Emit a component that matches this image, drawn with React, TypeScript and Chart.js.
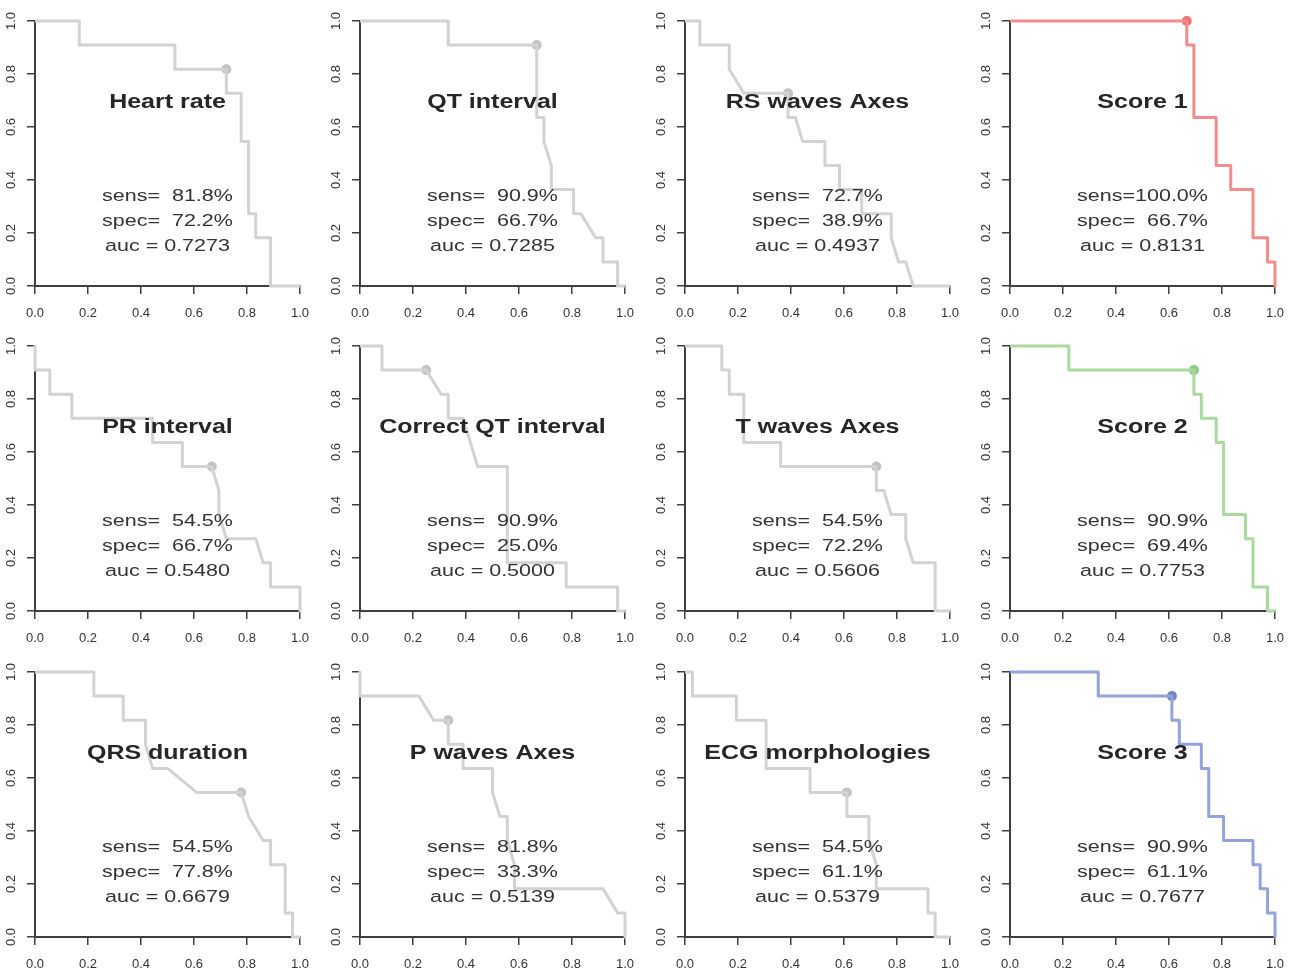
import React, { useEffect, useRef } from "react";
import { Chart, registerables } from "chart.js";

Chart.register(...registerables);

// ---------- data ----------
const titles = [
  "Heart rate", "QT interval", "RS waves Axes", "Score 1",
  "PR interval", "Correct QT interval", "T waves Axes", "Score 2",
  "QRS duration", "P waves Axes", "ECG morphologies", "Score 3",
];

const heartRateSpec = [0, 0.167, 0.167, 0.528, 0.528, 0.722, 0.722, 0.778, 0.778, 0.806, 0.806, 0.833, 0.833, 0.889, 0.889, 1];
const heartRateSens = [1, 1, 0.909, 0.909, 0.818, 0.818, 0.727, 0.727, 0.545, 0.545, 0.273, 0.273, 0.182, 0.182, 0, 0];

const qtSpec = [0, 0.333, 0.333, 0.667, 0.667, 0.694, 0.694, 0.722, 0.722, 0.806, 0.806, 0.833, 0.889, 0.917, 0.917, 0.972, 0.972, 1];
const qtSens = [1, 1, 0.909, 0.909, 0.636, 0.636, 0.545, 0.455, 0.364, 0.364, 0.273, 0.273, 0.182, 0.182, 0.091, 0.091, 0, 0];

const rsSpec = [0, 0.056, 0.056, 0.167, 0.167, 0.222, 0.389, 0.389, 0.417, 0.444, 0.528, 0.528, 0.583, 0.583, 0.667, 0.667, 0.778, 0.778, 0.806, 0.833, 0.861, 1];
const rsSens = [1, 1, 0.909, 0.909, 0.818, 0.727, 0.727, 0.636, 0.636, 0.545, 0.545, 0.455, 0.455, 0.364, 0.364, 0.273, 0.273, 0.182, 0.091, 0.091, 0, 0];

const score1Spec = [0, 0.667, 0.667, 0.694, 0.694, 0.778, 0.778, 0.833, 0.833, 0.917, 0.917, 0.972, 0.972, 1, 1];
const score1Sens = [1, 1, 0.909, 0.909, 0.636, 0.636, 0.455, 0.455, 0.364, 0.364, 0.182, 0.182, 0.091, 0.091, 0];

const prSpec = [0, 0, 0.056, 0.056, 0.139, 0.139, 0.444, 0.444, 0.556, 0.556, 0.667, 0.694, 0.694, 0.722, 0.833, 0.861, 0.889, 0.889, 1, 1];
const prSens = [1, 0.909, 0.909, 0.818, 0.818, 0.727, 0.727, 0.636, 0.636, 0.545, 0.545, 0.455, 0.364, 0.273, 0.273, 0.182, 0.182, 0.091, 0.091, 0];

const qtcSpec = [0, 0.083, 0.083, 0.25, 0.306, 0.333, 0.333, 0.389, 0.444, 0.556, 0.556, 0.778, 0.778, 0.972, 0.972, 1];
const qtcSens = [1, 1, 0.909, 0.909, 0.818, 0.818, 0.727, 0.727, 0.545, 0.545, 0.182, 0.182, 0.091, 0.091, 0, 0];

const tWaveSpec = [0, 0.139, 0.139, 0.167, 0.167, 0.222, 0.222, 0.361, 0.361, 0.722, 0.722, 0.75, 0.778, 0.833, 0.833, 0.861, 0.944, 0.944, 1];
const tWaveSens = [1, 1, 0.909, 0.909, 0.818, 0.818, 0.636, 0.636, 0.545, 0.545, 0.455, 0.455, 0.364, 0.364, 0.273, 0.182, 0.182, 0, 0];

const score2Spec = [0, 0.222, 0.222, 0.694, 0.694, 0.722, 0.722, 0.778, 0.778, 0.806, 0.806, 0.889, 0.889, 0.917, 0.917, 0.972, 0.972, 1];
const score2Sens = [1, 1, 0.909, 0.909, 0.818, 0.818, 0.727, 0.727, 0.636, 0.636, 0.364, 0.364, 0.273, 0.273, 0.091, 0.091, 0, 0];

const qrsSpec = [0, 0.222, 0.222, 0.333, 0.333, 0.417, 0.417, 0.444, 0.5, 0.611, 0.778, 0.806, 0.861, 0.889, 0.889, 0.944, 0.944, 0.972, 0.972, 1];
const qrsSens = [1, 1, 0.909, 0.909, 0.818, 0.818, 0.727, 0.636, 0.636, 0.545, 0.545, 0.455, 0.364, 0.364, 0.273, 0.273, 0.091, 0.091, 0, 0];

const pWaveSpec = [0, 0, 0.222, 0.278, 0.333, 0.333, 0.389, 0.389, 0.5, 0.5, 0.528, 0.556, 0.556, 0.583, 0.583, 0.917, 0.972, 1, 1];
const pWaveSens = [1, 0.909, 0.909, 0.818, 0.818, 0.727, 0.727, 0.636, 0.636, 0.545, 0.455, 0.455, 0.364, 0.273, 0.182, 0.182, 0.091, 0.091, 0];

const ecgSpec = [0, 0.028, 0.028, 0.194, 0.194, 0.306, 0.306, 0.472, 0.472, 0.611, 0.611, 0.694, 0.694, 0.722, 0.722, 0.917, 0.917, 0.944, 0.944, 1];
const ecgSens = [1, 1, 0.909, 0.909, 0.818, 0.818, 0.636, 0.636, 0.545, 0.545, 0.455, 0.455, 0.364, 0.273, 0.182, 0.182, 0.091, 0.091, 0, 0];

const score3Spec = [0, 0.333, 0.333, 0.611, 0.611, 0.639, 0.639, 0.722, 0.722, 0.75, 0.75, 0.806, 0.806, 0.917, 0.917, 0.944, 0.944, 0.972, 0.972, 1, 1];
const score3Sens = [1, 1, 0.909, 0.909, 0.818, 0.818, 0.727, 0.727, 0.636, 0.636, 0.455, 0.455, 0.364, 0.364, 0.273, 0.273, 0.182, 0.182, 0.091, 0.091, 0];

const bestSens = [81.8, 90.9, 72.7, 100.0, 54.5, 90.9, 54.5, 90.9, 54.5, 81.8, 54.5, 90.9];
const bestSpec = [72.2, 66.7, 38.9, 66.7, 66.7, 25.0, 72.2, 69.4, 77.8, 33.3, 61.1, 61.1];
const aucValues = [0.7273, 0.7285, 0.4937, 0.8131, 0.548, 0.5, 0.5606, 0.7753, 0.6679, 0.5139, 0.5379, 0.7677];

const axisTicks = [0, 0.2, 0.4, 0.6, 0.8, 1.0];

// ---------- styling ----------
const specList = [heartRateSpec, qtSpec, rsSpec, score1Spec, prSpec, qtcSpec, tWaveSpec, score2Spec, qrsSpec, pWaveSpec, ecgSpec, score3Spec];
const sensList = [heartRateSens, qtSens, rsSens, score1Sens, prSens, qtcSens, tWaveSens, score2Sens, qrsSens, pWaveSens, ecgSens, score3Sens];

const GRAY_LINE = "#d2d2d2";
const GRAY_PT = "#c3c3c3";
const lineColors = [GRAY_LINE, GRAY_LINE, GRAY_LINE, "#f38b8b", GRAY_LINE, GRAY_LINE, GRAY_LINE, "#a9d99e", GRAY_LINE, GRAY_LINE, GRAY_LINE, "#93a2d8"];
const pointColors = [GRAY_PT, GRAY_PT, GRAY_PT, "#ef7373", GRAY_PT, GRAY_PT, GRAY_PT, "#90cd84", GRAY_PT, GRAY_PT, GRAY_PT, "#7285c9"];

const FONT = "'Liberation Sans', Arial, Helvetica, sans-serif";
const TEXT_STRETCH = 1.25;
const AXIS_COLOR = "#3f3f3f";
const TEXT_COLOR = "#333333";

const CW = 325;
const CH = 326;
const rowTops = [0, 325, 651];

function fmtPct(v: number) {
  const s = v.toFixed(1);
  const pad = 5 - s.length;
  return "  ".repeat(Math.max(0, pad)) + s + "%";
}

function drawText(
  ctx: CanvasRenderingContext2D,
  text: string,
  x: number,
  y: number,
  font: string,
  color: string,
  stretch: number,
  rotate = false
) {
  ctx.save();
  ctx.font = font;
  ctx.fillStyle = color;
  ctx.textAlign = "center";
  ctx.textBaseline = "alphabetic";
  ctx.translate(x, y);
  ctx.scale(stretch, 1);
  if (rotate) ctx.rotate(-Math.PI / 2);
  ctx.fillText(text, 0, 0);
  ctx.restore();
}

function Panel({ idx }: { idx: number }) {
  const ref = useRef<HTMLCanvasElement>(null);
  const col = idx % 4;
  const row = Math.floor(idx / 4);

  useEffect(() => {
    if (!ref.current) return;
    const xs = specList[idx];
    const ys = sensList[idx];

    const textPlugin = {
      id: "panelText" + idx,
      afterDraw(chart: any) {
        const { ctx, chartArea } = chart;
        const xs2 = chart.scales.x;
        const ys2 = chart.scales.y;
        axisTicks.forEach((v) => {
          const px = xs2.getPixelForValue(v);
          drawText(ctx, v.toFixed(1), px, chartArea.bottom + 30.5, `13px ${FONT}`, TEXT_COLOR, 1);
          const py = ys2.getPixelForValue(v);
          drawText(ctx, v.toFixed(1), chartArea.left - 20.4, py, `13px ${FONT}`, TEXT_COLOR, 1, true);
        });
        const cx = xs2.getPixelForValue(0.5);
        const top = chartArea.top;
        drawText(ctx, titles[idx], cx, top + 87, `bold 20px ${FONT}`, "#262626", TEXT_STRETCH);
        drawText(ctx, "sens=" + fmtPct(bestSens[idx]), cx, top + 180, `17.2px ${FONT}`, TEXT_COLOR, TEXT_STRETCH);
        drawText(ctx, "spec=" + fmtPct(bestSpec[idx]), cx, top + 205, `17.2px ${FONT}`, TEXT_COLOR, TEXT_STRETCH);
        drawText(ctx, "auc = " + aucValues[idx].toFixed(4), cx, top + 230, `17.2px ${FONT}`, TEXT_COLOR, TEXT_STRETCH);
      },
    };

    const scaleCommon = {
      type: "linear" as const,
      min: 0,
      max: 1,
      z: 1,
      afterBuildTicks: (s: any) => {
        s.ticks = axisTicks.map((v) => ({ value: v }));
      },
      ticks: { display: false },
      grid: {
        display: true,
        drawOnChartArea: false,
        drawTicks: true,
        tickLength: 8,
        color: AXIS_COLOR,
        lineWidth: 1.5,
      },
      border: { display: true, color: AXIS_COLOR, width: 2 },
    };

    const chart = new Chart(ref.current, {
      type: "line",
      data: {
        datasets: [
          {
            data: xs.map((x, i) => ({ x, y: ys[i] })),
            borderColor: lineColors[idx],
            borderWidth: 3,
            pointRadius: 0,
            tension: 0,
            fill: false,
            clip: false as any,
            borderJoinStyle: "round",
            borderCapStyle: "butt",
          },
          {
            data: [{ x: bestSpec[idx] / 100, y: bestSens[idx] / 100 }],
            showLine: false,
            pointRadius: 5,
            pointBackgroundColor: pointColors[idx],
            pointBorderWidth: 0,
            borderColor: pointColors[idx],
            clip: false as any,
          },
        ],
      },
      options: {
        animation: false,
        responsive: false,
        maintainAspectRatio: false,
        events: [],
        layout: { padding: { left: 0, top: 21, right: 25, bottom: 0 } },
        plugins: { legend: { display: false }, tooltip: { enabled: false }, title: { display: false } },
        scales: {
          x: { ...scaleCommon, position: "bottom", afterFit: (s: any) => { s.height = 40; } },
          y: { ...scaleCommon, position: "left", afterFit: (s: any) => { s.width = 35; } },
        } as any,
      },
      plugins: [textPlugin],
    } as any);
    return () => chart.destroy();
  }, [idx]);

  return (
    <canvas
      ref={ref}
      width={CW}
      height={CH}
      style={{ position: "absolute", left: col * CW, top: rowTops[row], width: CW, height: CH }}
    />
  );
}

export default function App() {
  return (
    <div
      style={{
        position: "absolute",
        left: 0,
        top: 0,
        width: 1287,
        height: 974,
        overflow: "hidden",
        background: "#ffffff",
      }}
    >
      {titles.map((_, i) => (
        <Panel key={i} idx={i} />
      ))}
    </div>
  );
}
